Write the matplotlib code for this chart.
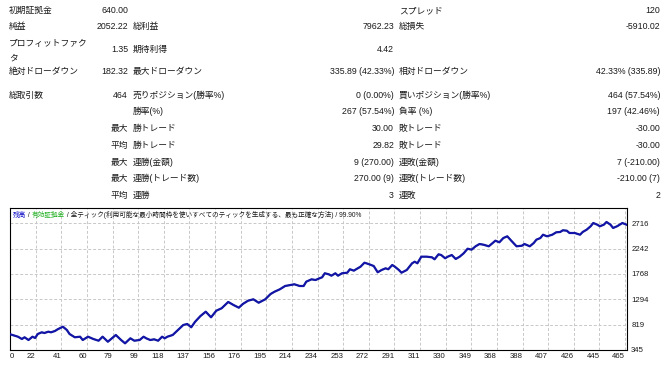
import numpy as np
import matplotlib
matplotlib.use('Agg')
import matplotlib.pyplot as plt

plt.rcParams['font.family'] = ['Liberation Sans', 'Noto Sans CJK JP', 'DejaVu Sans']

# balance curve (trade number, balance)
trade = [0, 6, 9, 11, 14, 17, 19, 21, 24, 26, 29, 31, 34, 36, 40, 43, 45, 49, 53, 55,
         59, 63, 67, 70, 74, 77, 80, 84, 87, 91, 94, 98, 101, 103, 106, 109, 112, 115, 117, 119,
         123, 127, 131, 134, 137, 140, 144, 148, 152, 156, 160, 165, 169, 173, 176, 180, 184, 188, 193, 197,
         200, 204, 208, 212, 215, 219, 222, 224, 228, 231, 234, 236, 238, 241, 243, 246, 248, 251, 255, 257,
         260, 262, 265, 268, 271, 275, 278, 281, 284, 286, 289, 291, 294, 296, 300, 304, 306, 308, 311, 315,
         319, 321, 324, 326, 329, 331, 334, 337, 340, 343, 346, 349, 352, 355, 358, 362, 364, 367, 370, 373,
         376, 379, 383, 387, 389, 393, 396, 398, 401, 403, 406, 410, 413, 416, 418, 421, 423, 427, 431, 433,
         436, 439, 441, 444, 446, 449, 451, 454, 456, 459, 461, 463, 466]
balance = [640, 594, 551, 583, 532, 594, 570, 645, 676, 663, 688, 676, 701, 732, 781, 719, 645, 583, 594, 532,
           594, 551, 519, 594, 500, 564, 626, 532, 470, 564, 519, 532, 594, 564, 532, 545, 519, 594, 564, 594,
           626, 719, 813, 832, 770, 875, 981, 1062, 957, 1081, 1126, 1244, 1187, 1137, 1206, 1268, 1294, 1230, 1294, 1393,
           1436, 1481, 1543, 1562, 1575, 1543, 1543, 1624, 1668, 1655, 1687, 1706, 1781, 1762, 1736, 1781, 1736, 1781, 1792, 1856,
           1830, 1861, 1904, 1979, 1955, 1917, 1800, 1843, 1874, 1856, 1936, 1904, 1843, 1792, 1843, 1968, 1998, 1968, 2092, 2092,
           2080, 2043, 2136, 2123, 2062, 2092, 2123, 2049, 2092, 2155, 2241, 2223, 2286, 2329, 2316, 2286, 2329, 2391, 2361, 2441,
           2473, 2391, 2286, 2297, 2329, 2286, 2348, 2410, 2441, 2503, 2473, 2503, 2548, 2554, 2586, 2578, 2535, 2535, 2503, 2554,
           2597, 2661, 2722, 2691, 2661, 2691, 2741, 2691, 2629, 2661, 2691, 2722, 2692]

xtick_labels = ['0', '22', '41', '60', '79', '99', '118', '137', '156', '176', '195', '214', '234',
                '253', '272', '291', '311', '330', '349', '368', '388', '407', '426', '445', '465']
ytick_values = [345, 819, 1294, 1768, 2242, 2716]

# report table: (row y px, label, value, label, value, label, value)
rows = [
    (10, '初期証拠金', '640.00', '', '', 'スプレッド', '120'),
    (26, '純益', '2052.22', '総利益', '7962.23', '総損失', '-5910.02'),
    (49, '', '1.35', '期待利得', '4.42', '', ''),
    (71, '絶対ドローダウン', '182.32', '最大ドローダウン', '335.89 (42.33%)', '相対ドローダウン', '42.33% (335.89)'),
    (95, '総取引数', '464', '売りポジション(勝率%)', '0 (0.00%)', '買いポジション(勝率%)', '464 (57.54%)'),
    (111, '', '', '勝率(%)', '267 (57.54%)', '負率 (%)', '197 (42.46%)'),
    (128, '', '最大', '勝トレード', '30.00', '敗トレード', '-30.00'),
    (145, '', '平均', '勝トレード', '29.82', '敗トレード', '-30.00'),
    (162, '', '最大', '連勝(金額)', '9 (270.00)', '連敗(金額)', '7 (-210.00)'),
    (178, '', '最大', '連勝(トレード数)', '270.00 (9)', '連敗(トレード数)', '-210.00 (7)'),
    (195, '', '平均', '連勝', '3', '連敗', '2'),
]

W, H = 667, 365
fig = plt.figure(figsize=(W / 100, H / 100), dpi=100)
fig.patch.set_facecolor('white')

fs = 6.3
tc = '#1a1a1a'


def ftext(x, y, s, **kw):
    # y is the visual centre of the row; draw on a common baseline
    fig.text(x / W, 1 - (y + 3.2) / H, s, fontsize=fs, color=tc, va='baseline', **kw)


for y, l1, v1, l2, v2, l3, v3 in rows:
    if l1:
        ftext(9, y, l1)
    if v1:
        ftext(128, y, v1, ha='right')
    if l2:
        ftext(133, y, l2)
    if v2:
        ftext(394, y, v2, ha='right')
    if l3:
        ftext(399, y, l3)
    if v3:
        ftext(660, y, v3, ha='right')
ftext(9, 43, 'プロフィットファク')
ftext(9, 57, 'タ')

# chart
ax = fig.add_axes([10 / W, 15 / H, 617 / W, 142 / H])
ax.plot(trade, balance, color='#20b020', lw=1.0, zorder=2)
ax.plot(trade, balance, color='#1414a8', lw=1.6, zorder=3)

ax.set_xlim(0, 466.5)
ax.set_ylim(345, 3003)
xt = np.linspace(0, 465, len(xtick_labels))
ax.set_xticks(xt)
ax.set_xticklabels(xtick_labels, fontsize=5.6, color=tc)
for i, lab in enumerate(ax.get_xticklabels()):
    lab.set_horizontalalignment('left' if i == 0 else 'right')
ax.set_yticks(ytick_values)
ax.set_yticklabels([str(v) for v in ytick_values], fontsize=5.6, color=tc)
ax.yaxis.tick_right()
ax.tick_params(axis='both', length=0, pad=3)
ax.tick_params(axis='x', pad=2)
ax.grid(True, color='#c8c8c8', linestyle=(0, (3, 2)), lw=0.7)
for sp in ax.spines.values():
    sp.set_color('black')
    sp.set_linewidth(0.8)

# legend line at the top of the chart
tfs = 4.8
tx = ax.text(0.005, 0.94, '残高', transform=ax.transAxes, fontsize=tfs, color='#1414c8', va='baseline')
parts = [(' / ', tc), ('有効証拠金', '#20b020'),
         (' / 全ティック(利用可能な最小時間枠を使いすべてのティックを生成する、最も正確な方法) / 99.90%', tc)]
fig.canvas.draw()
for s, c in parts:
    bb = tx.get_window_extent()
    x0 = ax.transAxes.inverted().transform((bb.x1, bb.y0))[0]
    tx = ax.text(x0, 0.94, s, transform=ax.transAxes, fontsize=tfs, color=c, va='baseline')

fig.savefig('out.png', dpi=100)
